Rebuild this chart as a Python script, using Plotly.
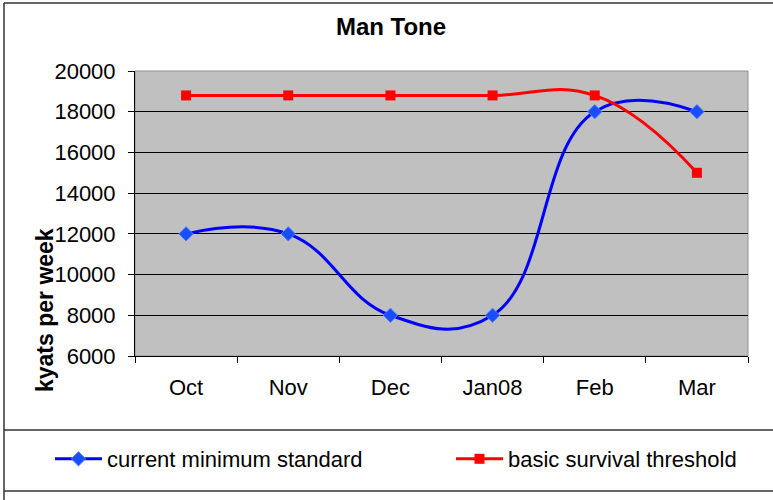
import plotly.graph_objects as go

categories = ["Oct", "Nov", "Dec", "Jan08", "Feb", "Mar"]
current_min = [12000, 12000, 8000, 8000, 18000, 18000]
survival = [18800, 18800, 18800, 18800, 18800, 15000]
y_ticks = [6000, 8000, 10000, 12000, 14000, 16000, 18000, 20000]
y_tick_labels = [str(v) for v in y_ticks]

W, H = 773, 500
L, R, T, B = 135, 25, 71, 144
PW, PH = W - L - R, H - T - B

def px(x):
    return (x - L) / PW

def py(y):
    return (H - B - y) / PH

FONT = "Liberation Sans, Arial, sans-serif"

fig = go.Figure()
fig.add_trace(go.Scatter(
    x=categories, y=current_min, name="current minimum standard", legend="legend",
    mode="lines+markers", line=dict(color="#0000ff", width=3, shape="spline", smoothing=1.25),
    marker=dict(symbol="diamond", size=11, color="#1a4dff", line=dict(color="#4d80ff", width=1)),
))
fig.add_trace(go.Scatter(
    x=categories, y=survival, name="basic survival threshold", legend="legend2",
    mode="lines+markers", line=dict(color="#ff0000", width=3, shape="spline", smoothing=1.25),
    marker=dict(symbol="square", size=10, color="#ff0000"),
))

shapes = [
    dict(type="rect", xref="paper", yref="paper", x0=0, x1=1, y0=0, y1=1,
         line=dict(color="#909090", width=1), layer="below"),
    dict(type="line", xref="paper", yref="paper", x0=px(4), x1=px(4), y0=py(3), y1=py(500),
         line=dict(color="#333333", width=1.5)),
    dict(type="line", xref="paper", yref="paper", x0=px(4), x1=px(773), y0=py(3), y1=py(3),
         line=dict(color="#333333", width=1.5)),
    dict(type="line", xref="paper", yref="paper", x0=px(4), x1=px(773), y0=py(430), y1=py(430),
         line=dict(color="#333333", width=1.5)),
    dict(type="line", xref="paper", yref="paper", x0=px(4), x1=px(773), y0=py(491), y1=py(491),
         line=dict(color="#333333", width=1.5)),
]

legend_common = dict(orientation="h", xanchor="left", yanchor="middle",
                     xref="container", yref="container",
                     bgcolor="rgba(0,0,0,0)", font=dict(family=FONT, size=22),
                     itemwidth=47)

fig.update_layout(
    width=W, height=H,
    margin=dict(l=L, r=R, t=T, b=B, autoexpand=False),
    paper_bgcolor="white", plot_bgcolor="#c0c0c0",
    font=dict(family=FONT, size=22, color="black"),
    title=dict(text="<b>Man Tone</b>", x=391 / W, xanchor="center", xref="container",
               y=1 - 27 / H, yanchor="middle", yref="container",
               font=dict(family=FONT, size=24, color="black")),
    showlegend=True,
    legend=dict(x=50 / W, y=1 - 459 / H, **legend_common),
    legend2=dict(x=451 / W, y=1 - 459 / H, **legend_common),
    shapes=shapes,
    annotations=[dict(text="<b>kyats per week</b>", xref="paper", yref="paper",
                      x=px(45), y=py(310), xanchor="center", yanchor="middle",
                      showarrow=False, textangle=-90,
                      font=dict(family=FONT, size=23, color="black"))],
)
fig.update_xaxes(
    type="category", range=[-0.5, 5.5], showgrid=False, showline=True, linecolor="black",
    linewidth=1, ticks="outside", ticklen=6, tickcolor="black", tickson="boundaries",
    ticklabelstandoff=12, zeroline=False,
)
fig.update_yaxes(
    range=[6000, 20000], tickvals=y_ticks, ticktext=y_tick_labels, showgrid=True,
    gridcolor="black", gridwidth=1,
    showline=True, linecolor="black", linewidth=1, ticks="outside", ticklen=6,
    tickcolor="black", ticklabelstandoff=8, zeroline=False,
)

fig.write_html("out.html", config={"displayModeBar": False},
               post_script="document.body.style.margin='0';")
